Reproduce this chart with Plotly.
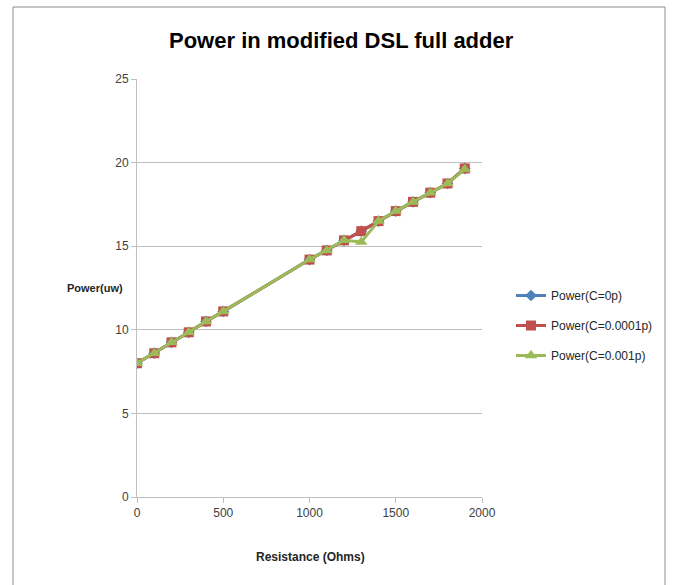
import plotly.graph_objects as go

resistance = [0, 100, 200, 300, 400, 500, 1000, 1100, 1200, 1300, 1400, 1500, 1600, 1700, 1800, 1900]
power_c0 = [8.0, 8.6, 9.25, 9.85, 10.5, 11.1, 14.2, 14.75, 15.35, 15.9, 16.5, 17.1, 17.65, 18.2, 18.75, 19.65]
power_c00001 = [8.0, 8.6, 9.25, 9.85, 10.5, 11.1, 14.2, 14.75, 15.35, 15.9, 16.5, 17.1, 17.65, 18.2, 18.75, 19.65]
power_c0001 = [8.0, 8.6, 9.25, 9.85, 10.5, 11.1, 14.2, 14.75, 15.35, 15.25, 16.5, 17.1, 17.65, 18.2, 18.75, 19.6]
series_names = ["Power(C=0p)", "Power(C=0.0001p)", "Power(C=0.001p)"]
x_ticks = [0, 500, 1000, 1500, 2000]
y_ticks = [0, 5, 10, 15, 20, 25]

FONT = "Liberation Sans Narrow, Arial Narrow, Liberation Sans, sans-serif"

fig = go.Figure()
styles = [
    dict(color="#4F81BD", symbol="diamond", size=9),
    dict(color="#C0504D", symbol="square", size=10),
    dict(color="#9BBB59", symbol="triangle-up", size=11),
]
for i, (name, ys) in enumerate(zip(series_names, [power_c0, power_c00001, power_c0001])):
    st = styles[i]
    fig.add_trace(go.Scatter(
        x=resistance, y=ys, name=name, mode="lines+markers",
        line=dict(color=st["color"], width=3),
        marker=dict(color=st["color"], symbol=st["symbol"], size=st["size"], line=dict(width=0)),
        legendgroup=f"g{i}",
    ))

L, R, T, B = 137, 191, 79, 88
W, H = 673, 585
pw, ph = W - L - R, H - T - B

def px(xp):
    return (xp - L) / pw

def py(yp):
    return (H - B - yp) / ph

fig.update_layout(
    width=W, height=H,
    margin=dict(l=L, r=R, t=T, b=B, pad=0),
    paper_bgcolor="white", plot_bgcolor="white",
    font=dict(family=FONT, size=12, color="#404040"),
    showlegend=True,
    legend=dict(
        x=px(511), y=py(281), xanchor="left", yanchor="top",
        font=dict(family=FONT, size=12, color="#262626"),
        traceorder="grouped", tracegroupgap=11,
        bgcolor="rgba(0,0,0,0)", itemwidth=30,
    ),
    xaxis=dict(
        range=[0, 2000], tickvals=x_ticks, showgrid=False, zeroline=False,
        showline=True, linecolor="#BFBFBF", linewidth=1,
        ticks="outside", ticklen=5, tickcolor="#BFBFBF",
        tickfont=dict(family=FONT, size=12, color="#404040"),
    ),
    yaxis=dict(
        range=[0, 25], tickvals=y_ticks, showgrid=True, gridcolor="#BFBFBF", gridwidth=1,
        zeroline=False, showline=True, linecolor="#BFBFBF", linewidth=1,
        ticks="outside", ticklen=5, tickcolor="#BFBFBF",
        tickfont=dict(family=FONT, size=12, color="#404040"),
    ),
    shapes=[dict(
        type="rect", xref="paper", yref="paper",
        x0=px(13), x1=px(665), y0=py(600), y1=py(7),
        line=dict(color="#8C8C8C", width=1), fillcolor="rgba(0,0,0,0)", layer="below",
    )],
    annotations=[
        dict(text="<b>Power in modified DSL full adder</b>", xref="paper", yref="paper",
             x=px(341), y=py(40), xanchor="center", yanchor="middle", showarrow=False,
             font=dict(family=FONT, size=22, color="#000000")),
        dict(text="<b>Power(uw)</b>", xref="paper", yref="paper",
             x=px(125), y=py(288), xanchor="right", yanchor="middle", showarrow=False,
             font=dict(family=FONT, size=11, color="#262626")),
        dict(text="<b>Resistance (Ohms)</b>", xref="paper", yref="paper",
             x=px(310), y=py(557), xanchor="center", yanchor="middle", showarrow=False,
             font=dict(family=FONT, size=12, color="#262626")),
    ],
)

fig.write_html("out.html")
